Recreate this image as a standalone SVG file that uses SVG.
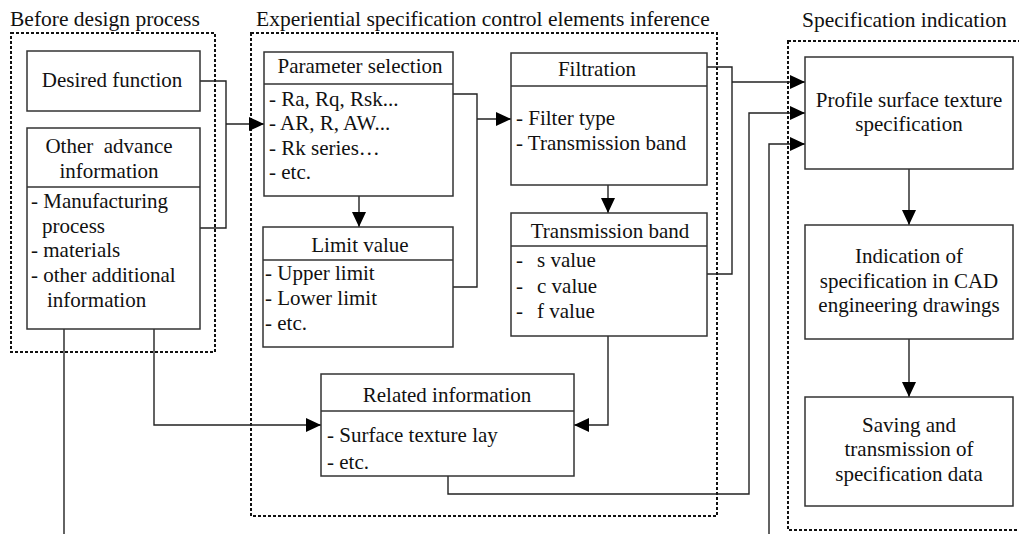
<svg xmlns="http://www.w3.org/2000/svg" width="1019" height="534" viewBox="0 0 1019 534" font-family="'Liberation Serif','Times New Roman',serif">
<style>
text{font-family:"Liberation Serif","Times New Roman",serif;font-size:21px;fill:#111}
.c{text-anchor:middle}
.lbl{font-size:21.5px}
.box{fill:#fff;stroke:#333;stroke-width:1.5}
.div{stroke:#333;stroke-width:1.5}
.grp{fill:none;stroke:#111;stroke-width:2;stroke-dasharray:3 2}
.ln{fill:none;stroke:#222;stroke-width:1.4}
.ar{marker-end:url(#ah)}
</style>
<defs>
<marker id="ah" markerUnits="userSpaceOnUse" markerWidth="15" markerHeight="14" refX="15" refY="7" orient="auto">
<path d="M0,0 L15,7 L0,14 z" fill="#000"/>
</marker>
</defs>

<g id="groups">
<rect class="grp" x="11" y="33" width="204" height="319"/>
<text class="lbl" x="10" y="26">Before design process</text>
<rect class="grp" x="251" y="33" width="466" height="483"/>
<text class="lbl" x="256" y="26">Experiential specification control elements inference</text>
<rect class="grp" x="788" y="41" width="240" height="489"/>
<text class="lbl" x="802" y="27">Specification indication</text>
</g>

<g id="connectors">
<path class="ln" d="M200,81 H226 V228 H200"/>
<path class="ln ar" d="M226,124 H264"/>
<path class="ln ar" d="M359,196 V227"/>
<path class="ln" d="M453,94 H477 V287 H453"/>
<path class="ln ar" d="M477,119 H511"/>
<path class="ln ar" d="M608,185 V213"/>
<path class="ln" d="M707,67 H732 V274 H707"/>
<path class="ln ar" d="M732,82 H805"/>
<path class="ln ar" d="M448,476 V494 H749 V113 H805"/>
<path class="ln ar" d="M769,534 V144 H805"/>
<path class="ln" d="M64,329 V534"/>
<path class="ln ar" d="M154,329 V425 H321"/>
<path class="ln ar" d="M608,336 V425 H574"/>
<path class="ln ar" d="M909,169 V225"/>
<path class="ln ar" d="M909,339 V397"/>
</g>

<g id="desired-function">
<rect class="box" x="27" y="51" width="173" height="60"/>
<text class="c" x="112" y="87">Desired function</text>
</g>

<g id="other-advance-information">
<rect class="box" x="27" y="128" width="173" height="201"/>
<line class="div" x1="27" y1="187" x2="200" y2="187"/>
<text class="c" x="109" y="153">Other&#160; advance</text>
<text class="c" x="109" y="178">information</text>
<text x="31" y="208">- Manufacturing</text>
<text x="42" y="233">process</text>
<text x="31" y="257">- materials</text>
<text x="31" y="282">- other additional</text>
<text x="47" y="307">information</text>
</g>

<g id="parameter-selection">
<rect class="box" x="264" y="52" width="189" height="144"/>
<line class="div" x1="264" y1="84" x2="453" y2="84"/>
<text class="c" x="360" y="73">Parameter selection</text>
<text x="269" y="106">- Ra, Rq, Rsk...</text>
<text x="269" y="130">- AR, R, AW...</text>
<text x="269" y="155">- Rk series…</text>
<text x="269" y="179">- etc.</text>
</g>

<g id="limit-value">
<rect class="box" x="263" y="227" width="190" height="120"/>
<line class="div" x1="263" y1="260" x2="453" y2="260"/>
<text class="c" x="360" y="252">Limit value</text>
<text x="265" y="280">- Upper limit</text>
<text x="265" y="305">- Lower limit</text>
<text x="265" y="330">- etc.</text>
</g>

<g id="filtration">
<rect class="box" x="511" y="53" width="196" height="132"/>
<line class="div" x1="511" y1="86" x2="707" y2="86"/>
<text class="c" x="597" y="76">Filtration</text>
<text x="516" y="125">- Filter type</text>
<text x="516" y="150">- Transmission band</text>
</g>

<g id="transmission-band">
<rect class="box" x="511" y="213" width="196" height="123"/>
<line class="div" x1="511" y1="246" x2="707" y2="246"/>
<text class="c" x="610" y="238">Transmission band</text>
<text x="516" y="267">-</text><text x="537" y="267">s value</text>
<text x="516" y="293">-</text><text x="537" y="293">c value</text>
<text x="516" y="318">-</text><text x="537" y="318">f value</text>
</g>

<g id="related-information">
<rect class="box" x="321" y="374" width="253" height="102"/>
<line class="div" x1="321" y1="411" x2="574" y2="411"/>
<text class="c" x="447" y="402">Related information</text>
<text x="327" y="442">- Surface texture lay</text>
<text x="327" y="469">- etc.</text>
</g>

<g id="profile-surface-texture-specification">
<rect class="box" x="805" y="57" width="208" height="112"/>
<text class="c" x="909" y="107">Profile surface texture</text>
<text class="c" x="909" y="131">specification</text>
</g>

<g id="indication-cad">
<rect class="box" x="805" y="225" width="208" height="114"/>
<text class="c" x="909" y="263">Indication of</text>
<text class="c" x="909" y="288">specification in CAD</text>
<text class="c" x="909" y="312">engineering drawings</text>
</g>

<g id="saving-transmission">
<rect class="box" x="805" y="397" width="208" height="109"/>
<text class="c" x="909" y="432">Saving and</text>
<text class="c" x="909" y="456">transmission of</text>
<text class="c" x="909" y="481">specification data</text>
</g>
</svg>
